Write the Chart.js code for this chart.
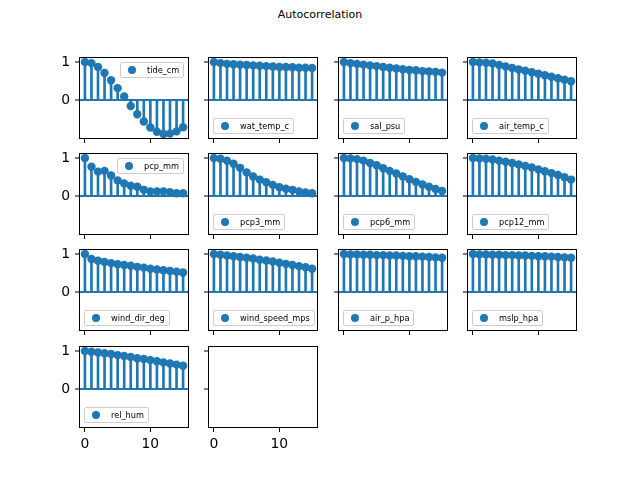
<!DOCTYPE html>
<html>
<head>
<meta charset="utf-8">
<title>Autocorrelation</title>
<script src="https://cdn.jsdelivr.net/npm/chart.js@4.4.0/dist/chart.umd.min.js"></script>
<style>
    body { margin: 0; background: #fff; }
    #fig { position: relative; width: 640px; height: 480px; overflow: hidden; font-family: "DejaVu Sans", sans-serif; }
    #title { position: absolute; left: 0; top: 8px; width: 640px; text-align: center; font-size: 11px; line-height: 13px; color: #000; }
    canvas.ax { position: absolute; }
    .legend {
        position: absolute;
        box-sizing: border-box;
        height: 16px;
        padding: 0 4px 0 3px;
        border: 1px solid #cccccc;
        border-radius: 2px;
        background: rgba(255, 255, 255, 0.8);
        font-size: 8.2px;
        line-height: 14px;
        color: #000;
        white-space: nowrap;
        display: flex;
        align-items: center;
    }
    .legend .handle { width: 16px; height: 14px; margin-right: 7px; display: flex; align-items: center; justify-content: center; }
    .legend .dot { width: 8.3px; height: 8.3px; border-radius: 50%; background: #1f77b4; }
</style>
</head>
<body>
<div id="fig">
    <div id="title">Autocorrelation</div>
</div>
<script>
// lags and autocorrelation values
const lags = [0, 1, 2, 3, 4, 5, 6, 7, 8, 9, 10, 11, 12, 13, 14, 15];

const tideCm       = [1.00, 0.97, 0.87, 0.71, 0.52, 0.31, 0.09, -0.16, -0.38, -0.57, -0.73, -0.84, -0.90, -0.89, -0.83, -0.72];
const watTempC     = [1.00, 0.97, 0.95, 0.94, 0.93, 0.92, 0.91, 0.90, 0.89, 0.88, 0.87, 0.87, 0.86, 0.85, 0.85, 0.84];
const salPsu       = [1.00, 0.97, 0.95, 0.93, 0.91, 0.89, 0.87, 0.85, 0.83, 0.81, 0.79, 0.78, 0.76, 0.75, 0.74, 0.72];
const airTempC     = [1.00, 0.99, 0.98, 0.96, 0.92, 0.88, 0.84, 0.80, 0.77, 0.73, 0.69, 0.65, 0.61, 0.57, 0.53, 0.49];
const pcpMm        = [1.00, 0.77, 0.64, 0.66, 0.54, 0.41, 0.33, 0.27, 0.24, 0.16, 0.12, 0.12, 0.12, 0.10, 0.07, 0.07];
const pcp3Mm       = [1.00, 0.98, 0.93, 0.85, 0.74, 0.62, 0.51, 0.43, 0.36, 0.29, 0.23, 0.19, 0.16, 0.12, 0.09, 0.07];
const pcp6Mm       = [1.00, 0.99, 0.97, 0.93, 0.87, 0.81, 0.73, 0.66, 0.59, 0.51, 0.44, 0.37, 0.30, 0.24, 0.18, 0.13];
const pcp12Mm      = [1.00, 0.99, 0.98, 0.96, 0.93, 0.90, 0.87, 0.83, 0.79, 0.75, 0.70, 0.65, 0.60, 0.55, 0.49, 0.43];
const windDirDeg   = [1.00, 0.87, 0.82, 0.79, 0.76, 0.73, 0.71, 0.69, 0.66, 0.64, 0.61, 0.59, 0.57, 0.55, 0.53, 0.51];
const windSpeedMps = [1.00, 0.98, 0.96, 0.94, 0.92, 0.90, 0.88, 0.85, 0.83, 0.80, 0.77, 0.74, 0.71, 0.68, 0.65, 0.61];
const airPHpa      = [1.00, 0.99, 0.99, 0.98, 0.98, 0.97, 0.97, 0.96, 0.96, 0.95, 0.94, 0.94, 0.93, 0.92, 0.91, 0.90];
const mslpHpa      = [1.00, 0.99, 0.99, 0.98, 0.98, 0.97, 0.97, 0.96, 0.96, 0.95, 0.94, 0.94, 0.93, 0.92, 0.91, 0.90];
const relHum       = [1.00, 0.98, 0.96, 0.94, 0.92, 0.89, 0.87, 0.84, 0.81, 0.79, 0.76, 0.73, 0.70, 0.67, 0.64, 0.61];

const seriesNames = ['tide_cm', 'wat_temp_c', 'sal_psu', 'air_temp_c', 'pcp_mm', 'pcp3_mm', 'pcp6_mm',
    'pcp12_mm', 'wind_dir_deg', 'wind_speed_mps', 'air_p_hpa', 'mslp_hpa', 'rel_hum'];
const seriesValues = [tideCm, watTempC, salPsu, airTempC, pcpMm, pcp3Mm, pcp6Mm,
    pcp12Mm, windDirDeg, windSpeedMps, airPHpa, mslpHpa, relHum];

const xTicks = [0, 10];
const yTicks = [0, 1];

// legends that sit in the upper right corner (all others lower left)
const upperRightLegends = ['tide_cm', 'pcp_mm'];

// subplot grid geometry (4x4, matplotlib defaults)
const colLeft = [80, 209, 339, 468];
const rowTop = [58, 154, 250, 347];
const AX_W = 108, AX_H = 80;
const PAD_L = 40, PAD_T = 16, PAD_R = 12, PAD_B = 30;
const BLUE = '#1f77b4';
const TICK_FONT = { family: 'DejaVu Sans', size: 13.9 };

const fig = document.getElementById('fig');

// draws the four spines round the plot area
const spinesPlugin = {
    id: 'spines',
    afterDraw(chart) {
        const a = chart.chartArea;
        const ctx = chart.ctx;
        ctx.save();
        ctx.strokeStyle = '#000';
        ctx.lineWidth = 1;
        ctx.strokeRect(Math.round(a.left) - 0.5, Math.round(a.top) - 0.5,
            Math.round(a.right - a.left) + 1, Math.round(a.bottom - a.top) + 1);
        ctx.restore();
    }
};

function addLegend(name, col, row) {
    const div = document.createElement('div');
    div.className = 'legend';
    div.innerHTML = '<span class="handle"><span class="dot"></span></span><span>' + name + '</span>';
    fig.appendChild(div);
    if (upperRightLegends.includes(name)) {
        div.style.left = (colLeft[col] + AX_W - 4 - div.offsetWidth) + 'px';
        div.style.top = (rowTop[row] + 4) + 'px';
    } else {
        div.style.left = (colLeft[col] + 4) + 'px';
        div.style.top = (rowTop[row] + AX_H - 4 - 16) + 'px';
    }
}

function makeAxes(idx) {
    const row = Math.floor(idx / 4);
    const col = idx % 4;
    const values = seriesValues[idx];
    const hasData = !!values;
    const showX = row === 3;
    const showY = col === 0;

    const canvas = document.createElement('canvas');
    canvas.className = 'ax';
    canvas.width = AX_W + PAD_L + PAD_R;
    canvas.height = AX_H + PAD_T + PAD_B;
    canvas.style.left = (colLeft[col] - PAD_L) + 'px';
    canvas.style.top = (rowTop[row] - PAD_T) + 'px';
    fig.appendChild(canvas);

    const datasets = [];
    if (hasData) {
        const pts = lags.map((l, i) => ({ x: l, y: values[i] }));
        datasets.push({
            type: 'scatter',
            label: seriesNames[idx],
            data: pts,
            backgroundColor: BLUE,
            borderWidth: 0,
            pointRadius: 4.2,
            order: 0
        });
        datasets.push({
            type: 'bar',
            label: seriesNames[idx] + ' stems',
            data: pts,
            backgroundColor: BLUE,
            borderWidth: 0,
            barThickness: 2,
            grouped: false,
            order: 1
        });
    }

    new Chart(canvas, {
        type: 'scatter',
        data: { datasets: datasets },
        options: {
            responsive: false,
            animation: false,
            events: [],
            layout: { padding: { left: 0, top: PAD_T, right: PAD_R, bottom: 0 } },
            plugins: { legend: { display: false }, tooltip: { enabled: false } },
            scales: {
                x: {
                    type: 'linear',
                    min: -0.75,
                    max: 15.75,
                    offset: false,
                    afterFit: s => { s.height = PAD_B; },
                    afterBuildTicks: s => { s.ticks = xTicks.map(v => ({ value: v })); },
                    grid: { offset: false, drawOnChartArea: false, tickColor: '#000', tickWidth: 1, tickLength: 5 },
                    border: { display: false },
                    ticks: {
                        padding: 4,
                        color: '#000',
                        font: TICK_FONT,
                        maxRotation: 0,
                        autoSkip: false,
                        callback: v => showX ? String(v) : ''
                    }
                },
                y: {
                    type: 'linear',
                    min: -1.005,
                    max: 1.105,
                    afterFit: s => { s.width = PAD_L; },
                    afterBuildTicks: s => { s.ticks = yTicks.map(v => ({ value: v })); },
                    grid: {
                        color: c => (hasData && c.tick && c.tick.value === 0) ? BLUE : 'rgba(0,0,0,0)',
                        lineWidth: 2,
                        tickColor: '#000',
                        tickWidth: 1,
                        tickLength: 5
                    },
                    border: { display: false },
                    ticks: {
                        padding: 5,
                        color: '#000',
                        font: TICK_FONT,
                        autoSkip: false,
                        callback: v => showY ? String(v) : ''
                    }
                }
            }
        },
        plugins: [spinesPlugin]
    });

    if (hasData) addLegend(seriesNames[idx], col, row);
}

// 13 series plus one empty panel
for (let i = 0; i < 14; i++) makeAxes(i);
</script>
</body>
</html>
